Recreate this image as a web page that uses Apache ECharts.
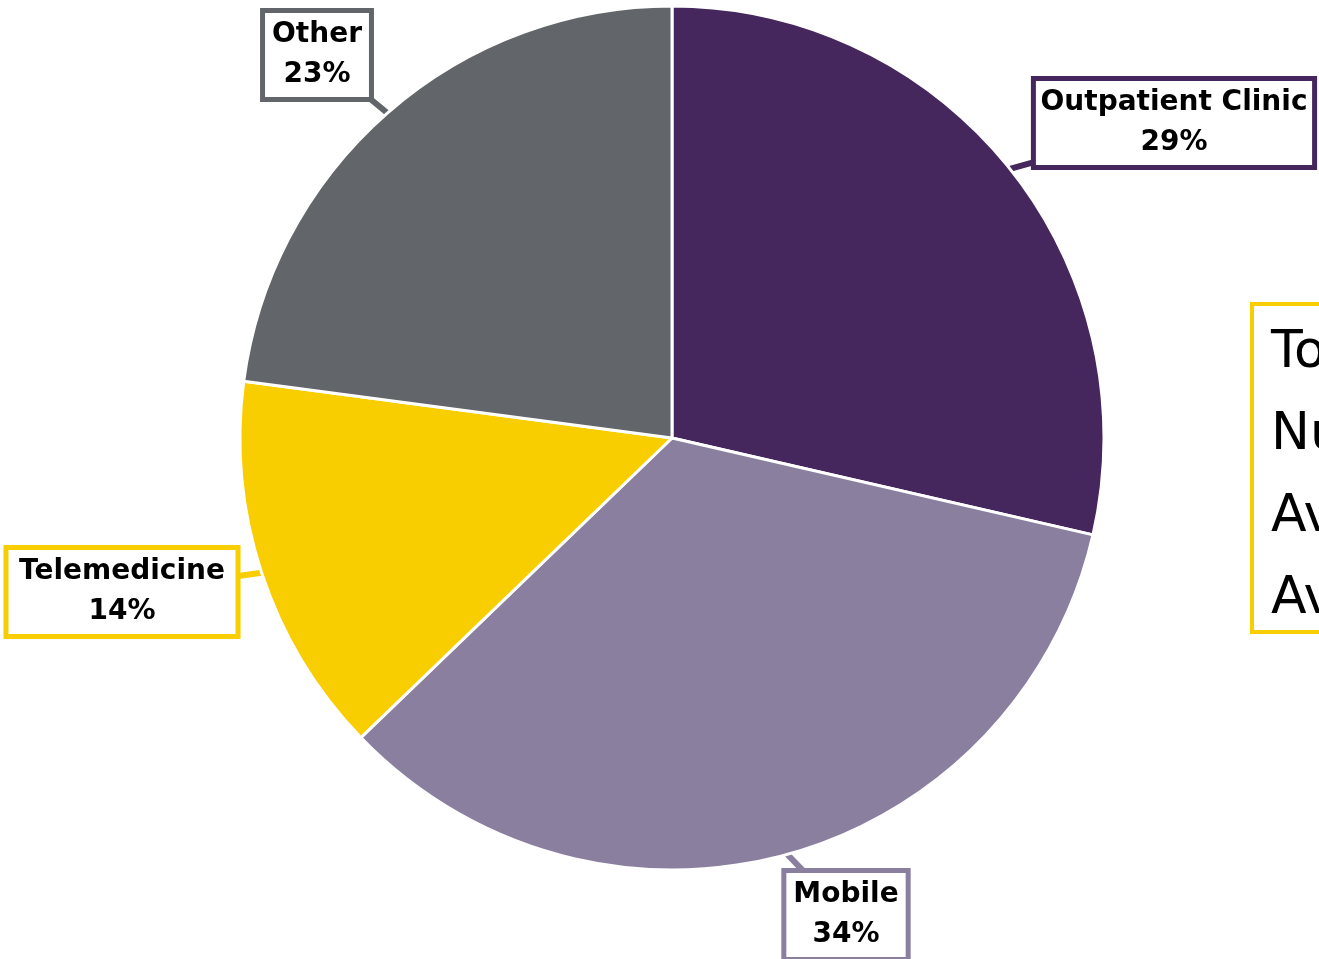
<!DOCTYPE html>
<html>
<head>
<meta charset="utf-8">
<script src="https://cdn.jsdelivr.net/npm/echarts@6/dist/echarts.min.js"></script>
<style>
html,body{margin:0;padding:0;background:#fff;}
#chart{width:1319px;height:959px;}
</style>
</head>
<body>
<div id="chart"></div>
<script>
const categories = ['Outpatient Clinic', 'Mobile', 'Telemedicine', 'Other'];
const values = [28.6, 34.2, 14.3, 22.9];
const colors = ['#45275e', '#8a7f9e', '#f9ce00', '#626569'];
const labelCenters = [[1174, 123], [846, 915], [122, 592], [317, 55]];
const summaryLines = ['Total Visits', 'Number of Patients', 'Average Visits', 'Average Cost'];

const chart = echarts.init(document.getElementById('chart'));
const data = categories.map((c, i) => ({
  name: c,
  value: values[i],
  itemStyle: { color: colors[i] },
  label: { borderColor: colors[i] },
  labelLine: { lineStyle: { color: colors[i] } }
}));

chart.setOption({
  animation: false,
  backgroundColor: '#fff',
  series: [{
    type: 'pie',
    center: [672, 438],
    radius: [0, 432],
    startAngle: 90,
    clockwise: true,
    data: data,
    itemStyle: { borderColor: '#fff', borderWidth: 3 },
    label: {
      show: true,
      position: 'outside',
      overflow: 'none',
      formatter: p => p.name + '\n' + Math.round(p.percent) + '%',
      fontFamily: 'DejaVu Sans',
      fontWeight: 'bold',
      fontSize: 28,
      lineHeight: 40,
      color: '#000',
      align: 'center',
      backgroundColor: '#fff',
      borderWidth: 5,
      padding: [2, 7, 2, 7]
    },
    labelLine: { show: true, length: 10, length2: 10, lineStyle: { width: 6 } },
    labelLayout: function (params) {
      const c = labelCenters[params.dataIndex];
      const pts = params.labelLinePoints;
      const res = { x: c[0], y: c[1], align: 'center', verticalAlign: 'middle' };
      if (pts) {
        const p0 = pts[0];
        res.labelLinePoints = [[p0[0], p0[1]], [c[0], c[1]], [c[0], c[1]]];
      }
      return res;
    }
  }],
  graphic: [{
    type: 'group',
    left: 1250,
    top: 302,
    children: [{
      type: 'rect',
      shape: { x: 0, y: 0, width: 400, height: 328 },
      style: { fill: '#fff', stroke: '#f9ce00', lineWidth: 4 }
    }, {
      type: 'text',
      x: 19,
      y: 8,
      style: {
        text: summaryLines.join('\n'),
        font: '52px "DejaVu Sans"',
        lineHeight: 82,
        fill: '#000'
      }
    }]
  }]
});
</script>
</body>
</html>
